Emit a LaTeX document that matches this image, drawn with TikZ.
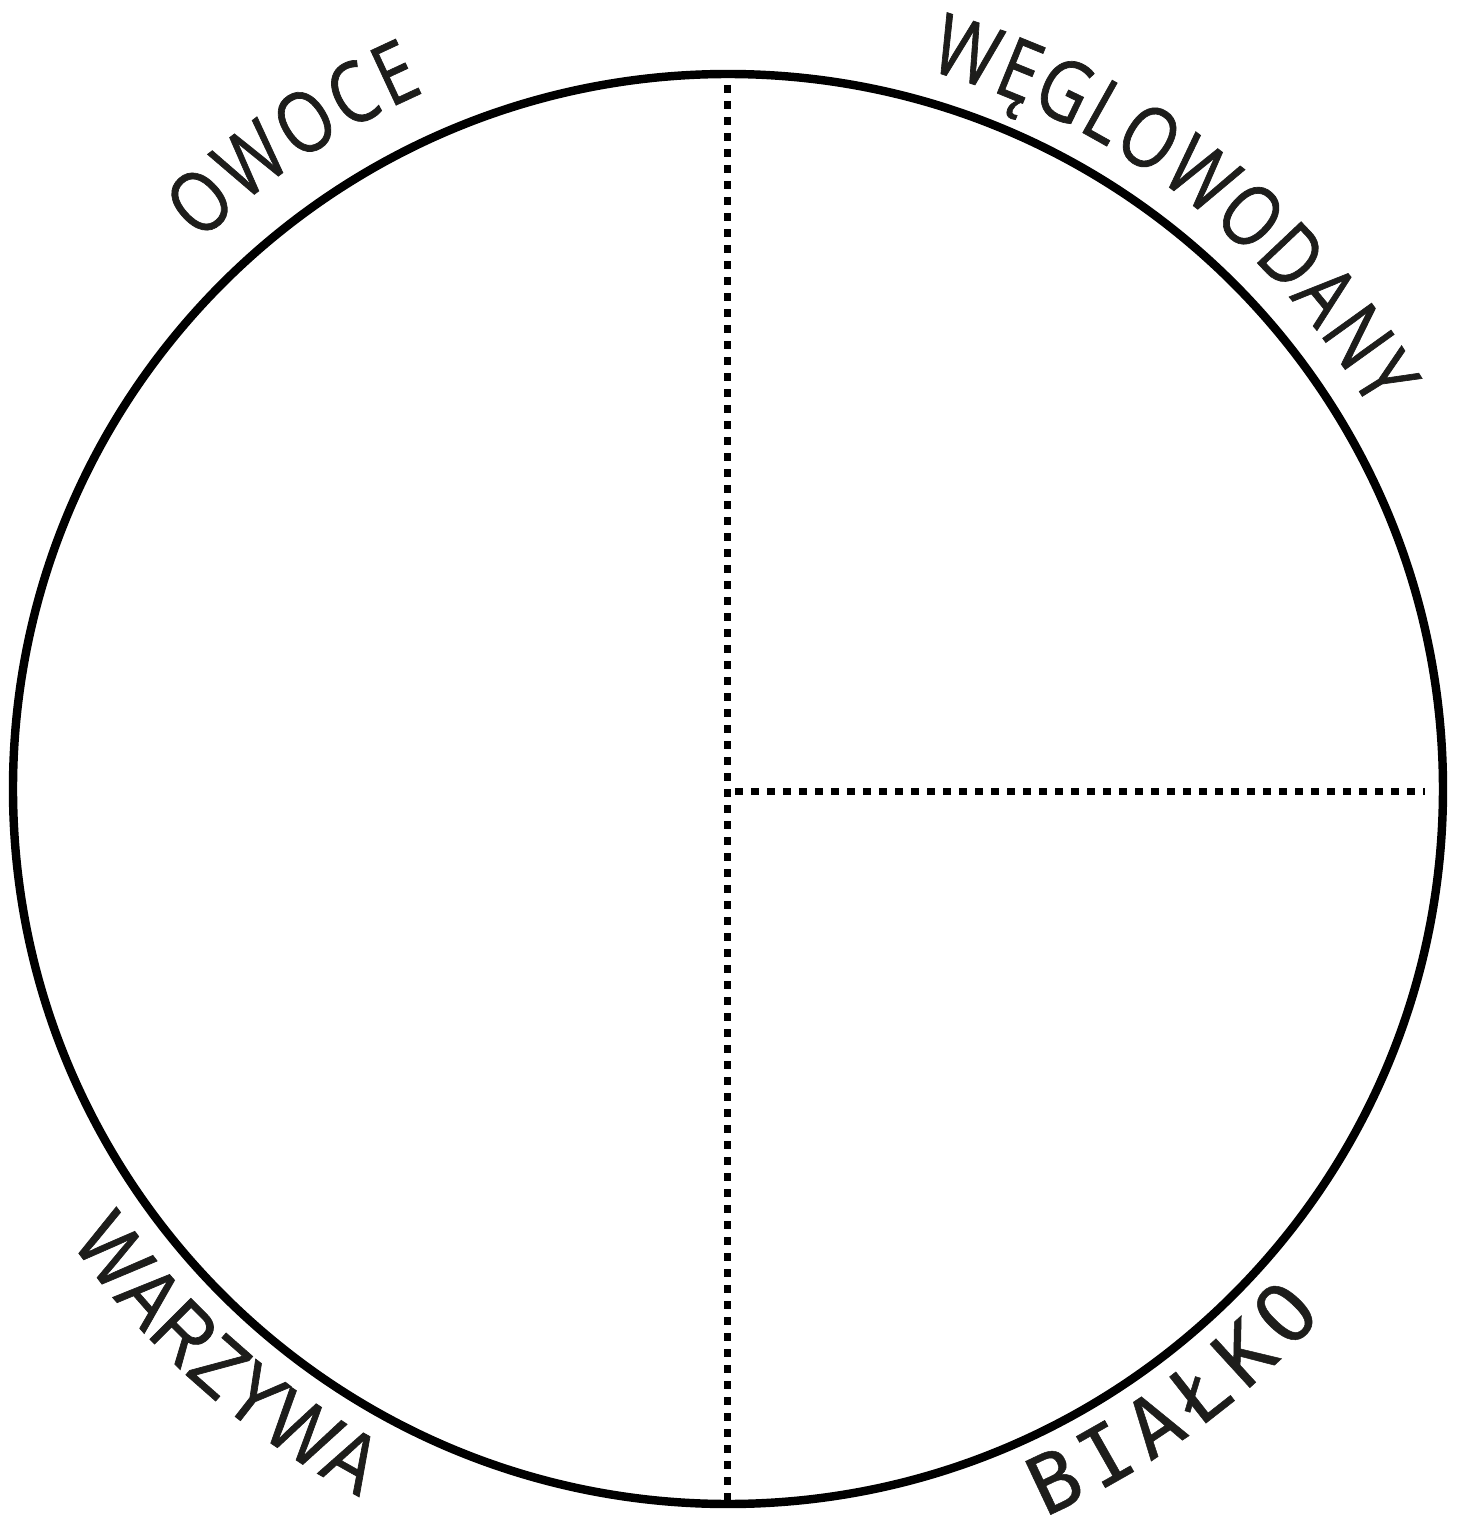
\documentclass[tikz,border=0pt]{standalone}
\usepackage{fontspec}
\usetikzlibrary{decorations.text}
\newfontfamily\opensans[FakeStretch=0.82, FakeBold=0.8]{Open Sans}
\newfontfamily\arialsans[FakeStretch=0.86, FakeBold=0.8]{Liberation Sans}
\newfontfamily\monosans[FakeBold=0.6]{DejaVu Sans Mono}
\definecolor{labelgray}{HTML}{1D1D1B}
\tikzset{
  dotline/.style={line width=0.07cm, dash pattern=on 0.08cm off 0.08cm},
  arclabel/.style={decorate, decoration={text along path, text align=fit to path,
    text color=labelgray, text={#1}}}
}
\begin{document}
\begin{tikzpicture}
        \useasboundingbox (-7.28,-7.46) rectangle (7.39,7.89);
        \coordinate (c) at (0,0);
        \coordinate (top) at (0,7.04);
        \coordinate (bottom) at (0,-7.11);
        \coordinate (mid) at (0.07,-0.02);
        \coordinate (right) at (6.97,-0.02);
        \draw[line width=2.4pt] (c) circle[radius=7.15];
        \draw[dotline] (top) -- (bottom);
        \draw[dotline] (mid) -- (right);
        % labels round the rim
        \path[arclabel={|\opensans\fontsize{24}{28}\selectfont|OWOCE}]
          (c) ++(134:7.6) arc[start angle=134, end angle=113.5, radius=7.6];
        \path[arclabel={|\opensans\fontsize{24}{28}\selectfont|WĘGLOWODANY}]
          (c) ++(74.5:7.46) arc[start angle=74.5, end angle=30.5, radius=7.46];
        \path[arclabel={|\arialsans\fontsize{24}{28}\selectfont|WARZYWA}]
          (c) ++(214.5:7.98) arc[start angle=214.5, end angle=242.5, radius=7.98];
        \path[arclabel={|\monosans\fontsize{23}{27}\selectfont|BIAŁKO}]
          (c) ++(293.5:7.94) arc[start angle=293.5, end angle=318.5, radius=7.94];
      \end{tikzpicture}
\end{document}
